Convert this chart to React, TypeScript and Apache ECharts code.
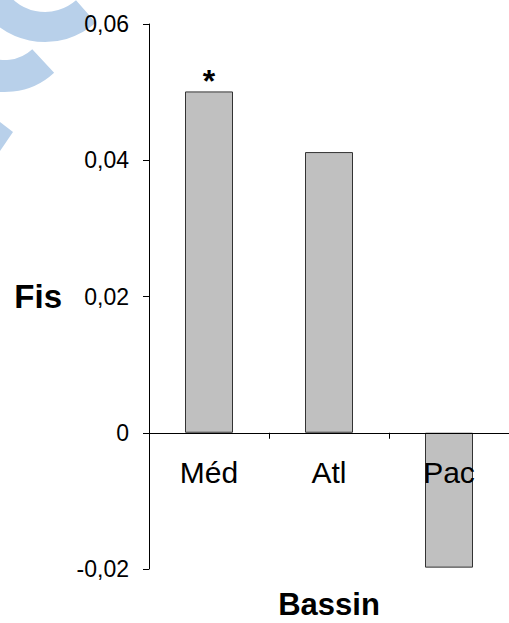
import React, { useEffect, useRef } from "react";
import * as echarts from "echarts";

const categories = ["Méd", "Atl", "Pac"];
const fisValues = [0.0501, 0.0412, -0.0198];
const annotations = ["*", "", ""];
const yTicks = { min: -0.02, max: 0.06, interval: 0.02 };
const xAxisTitle = "Bassin";
const yAxisTitle = "Fis";

const FONT = "'Liberation Sans', Arial, Helvetica, sans-serif";

function fmt(v: number): string {
  if (Math.abs(v) < 1e-9) return "0";
  return v.toFixed(2).replace(".", ",");
}

const GRID_TOP = 24;
const GRID_HEIGHT = 545;
// pixel distance from grid bottom up to the zero line
const zeroOffset = -GRID_HEIGHT * (0 - yTicks.min) / (yTicks.max - yTicks.min);

export default function App() {
  const ref = useRef<HTMLDivElement>(null);
  useEffect(() => {
    if (!ref.current) return;
    const chart = echarts.init(ref.current, undefined, { renderer: "svg" });
    const wm = "#b8d0ea";
    chart.setOption({
      animation: false,
      backgroundColor: "#ffffff",
      textStyle: { fontFamily: FONT },
      graphic: [
        {
          type: "arc",
          silent: true,
          z: -10,
          shape: { cx: 45, cy: -35, r: 62, startAngle: 0.85, endAngle: 2.7, clockwise: true },
          style: { stroke: wm, lineWidth: 30, fill: "none", lineCap: "butt" },
        },
        {
          type: "arc",
          silent: true,
          z: -10,
          shape: { cx: 5, cy: 20, r: 56, startAngle: 0.82, endAngle: 2.1, clockwise: true },
          style: { stroke: wm, lineWidth: 32, fill: "none", lineCap: "butt" },
        },
        {
          type: "polygon",
          silent: true,
          z: -10,
          shape: { points: [[0, 122], [13, 132], [0, 151]] },
          style: { fill: wm },
        },
      ],
      grid: {
        left: 149,
        top: GRID_TOP,
        width: 360,
        height: GRID_HEIGHT,
        containLabel: false,
        outerBoundsMode: "none",
      },
      xAxis: {
        type: "category",
        data: categories,
        offset: zeroOffset,
        z: 10,
        name: xAxisTitle,
        nameLocation: "middle",
        nameGap: 158,
        nameTextStyle: { fontSize: 31, lineHeight: 28, fontWeight: "bold", color: "#000", fontFamily: FONT },
        axisLine: { onZero: false, lineStyle: { color: "#000", width: 1 } },
        axisTick: { show: true, inside: false, length: 6, alignWithLabel: false, lineStyle: { color: "#000" } },
        axisLabel: { fontSize: 30, color: "#000", margin: 25, fontFamily: FONT },
        splitLine: { show: false },
      },
      yAxis: {
        type: "value",
        min: yTicks.min,
        max: yTicks.max,
        interval: yTicks.interval,
        name: yAxisTitle,
        nameLocation: "middle",
        nameRotate: 0,
        nameGap: 87,
        nameTextStyle: { fontSize: 33, fontWeight: "bold", color: "#000", fontFamily: FONT },
        axisLine: { show: true, lineStyle: { color: "#000", width: 1 } },
        axisTick: { show: true, inside: false, length: 6, lineStyle: { color: "#000" } },
        axisLabel: { fontSize: 23, color: "#000", margin: 20, fontFamily: FONT, formatter: (v: number) => fmt(v) },
        splitLine: { show: false },
      },
      series: [
        {
          type: "bar",
          z: 2,
          data: fisValues,
          barWidth: "40%",
          itemStyle: { color: "#c0c0c0", borderColor: "#333", borderWidth: 1 },
          label: {
            show: true,
            position: "top",
            distance: -6,
            fontSize: 32,
            fontWeight: "bold",
            color: "#000",
            fontFamily: FONT,
            formatter: (p: any) => annotations[p.dataIndex] || "",
          },
        },
      ],
    });
    return () => chart.dispose();
  }, []);
  return (
    <div
      ref={ref}
      style={{ position: "absolute", left: 0, top: 0, width: 509, height: 623 }}
    />
  );
}
